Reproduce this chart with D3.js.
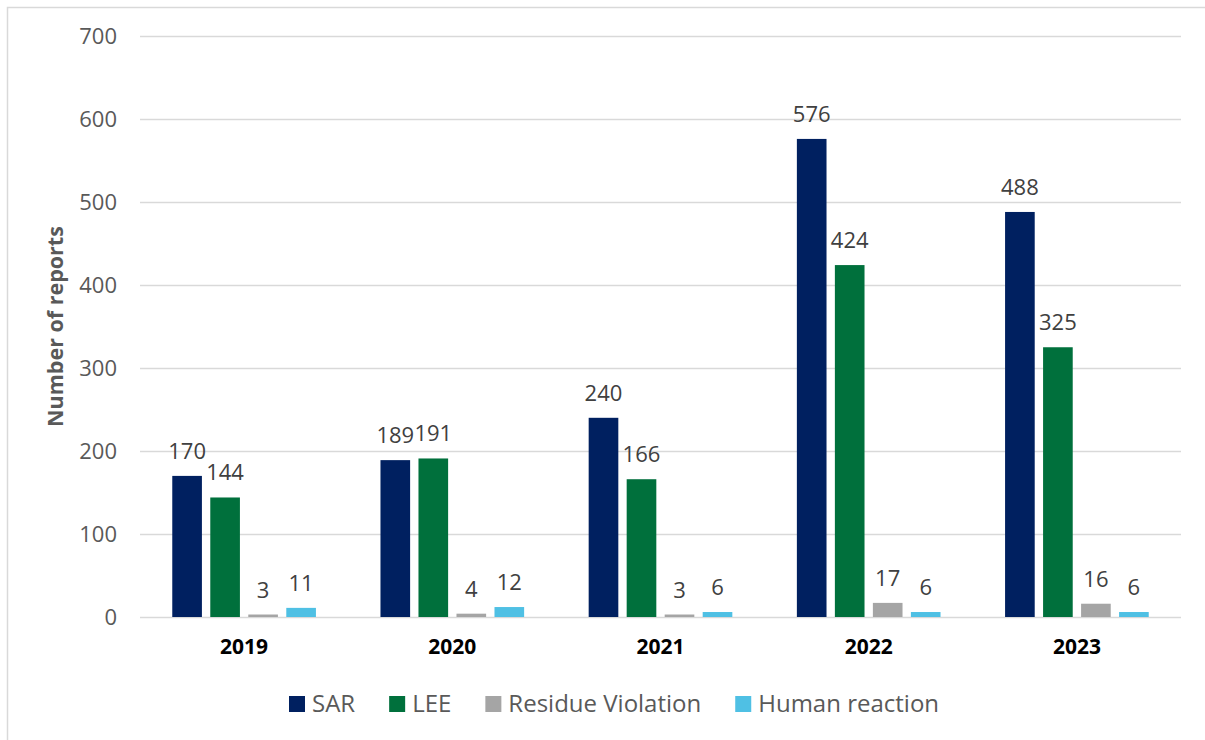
<!DOCTYPE html>
<html><head><meta charset="utf-8">
<script src="https://cdn.jsdelivr.net/npm/d3@7"></script>
<style>body{margin:0;background:#fff}svg{display:block}text{font-family:"Open Sans",sans-serif}</style>
</head><body><svg id="c" width="1205" height="740"></svg>
<script>
const years = ["2019","2020","2021","2022","2023"];
const seriesNames = ["SAR","LEE","Residue Violation","Human reaction"];
const sarValues = [170,189,240,576,488];
const leeValues = [144,191,166,424,325];
const residueValues = [3,4,3,17,16];
const humanValues = [11,12,6,6,6];
const yTicks = [0,100,200,300,400,500,600,700];
const colors = ["#002060","#00703C","#A5A5A5","#4FC0E4"];

const allValues = [sarValues, leeValues, residueValues, humanValues];
const svg = d3.select("#c");
svg.append("rect").attr("x",7.5).attr("y",7.5).attr("width",1300).attr("height",900)
  .attr("fill","none").attr("stroke","#d9d9d9").attr("stroke-width",1.5);

const m = {left:140, right:1181, top:36, bottom:617};
const y = d3.scaleLinear().domain([0,700]).range([m.bottom, m.top]);
const x0 = d3.scaleBand().domain(years).range([m.left, m.right]).paddingInner(0.31).paddingOuter(0.155);
const x1 = d3.scaleBand().domain(seriesNames).range([0, x0.bandwidth()]).paddingInner(0.22).paddingOuter(0);

// gridlines
const yAxis = d3.axisLeft(y).tickValues(yTicks).tickSize(-(m.right-m.left)).tickFormat(d3.format("d"));
const ga = svg.append("g").attr("transform",`translate(${m.left},0)`).call(yAxis);
ga.select(".domain").remove();
ga.selectAll(".tick line").attr("stroke","#d9d9d9").attr("stroke-width",1.5);
ga.selectAll(".tick text").attr("x",-23).attr("fill","#595959").attr("font-size",22).attr("dy","0.35em");

// axis title
svg.append("text").attr("transform",`translate(63,${(m.top+m.bottom)/2}) rotate(-90)`)
  .attr("text-anchor","middle").attr("font-weight","bold").attr("font-size",21.5).attr("fill","#595959")
  .text("Number of reports");

// bars
const rows = years.map((yr,i)=>({year:yr, vals: seriesNames.map((s,j)=>({s, j, v: allValues[j][i]}))}));
const g = svg.selectAll("g.grp").data(rows).join("g").attr("class","grp")
  .attr("transform",d=>`translate(${x0(d.year)},0)`);
g.selectAll("rect").data(d=>d.vals).join("rect")
  .attr("x",d=>x1(d.s)).attr("width",x1.bandwidth())
  .attr("y",d=>y(d.v)).attr("height",d=>y(0)-y(d.v))
  .attr("fill",d=>colors[d.j]);
g.selectAll("text.lbl").data(d=>d.vals).join("text").attr("class","lbl")
  .attr("x",d=>x1(d.s)+x1.bandwidth()/2).attr("y",d=>y(d.v)-17)
  .attr("text-anchor","middle").attr("font-size",22).attr("fill","#404040")
  .text(d=>d.v);

// x axis labels
const xAxis = d3.axisBottom(x0).tickSize(0);
const gx = svg.append("g").attr("transform",`translate(0,${m.bottom})`).call(xAxis);
gx.select(".domain").remove();
gx.selectAll(".tick text").attr("y",37).attr("dy",0).attr("font-size",21).attr("font-weight","bold").attr("fill","#000");

// legend
const leg = svg.append("g").attr("transform","translate(289,704)");
let lx = 0;
seriesNames.forEach((s,i)=>{
  const it = leg.append("g").attr("transform",`translate(${lx},0)`);
  it.append("rect").attr("x",0).attr("y",-8).attr("width",16).attr("height",16).attr("fill",colors[i]);
  const t = it.append("text").attr("x",23).attr("y",8).attr("font-size",24).attr("fill","#595959").text(s);
  lx += 23 + t.node().getComputedTextLength() + 34;
});
</script></body></html>
